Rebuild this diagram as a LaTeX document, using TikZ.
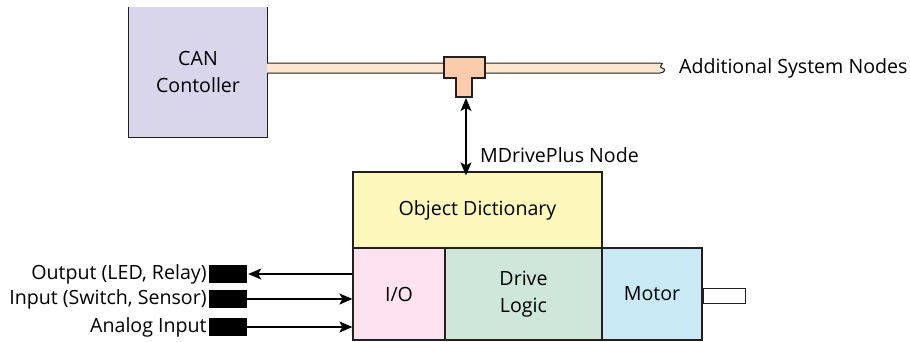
\documentclass[tikz,border=0pt]{standalone}
\usepackage{fontspec}
\setmainfont{Open Sans}
\usetikzlibrary{arrows.meta}
\definecolor{edge}{HTML}{231F20}
\definecolor{canfill}{HTML}{D9D5EA}
\definecolor{cablefill}{HTML}{FDE6CD}
\definecolor{teefill}{HTML}{FBCBAB}
\definecolor{dictfill}{HTML}{FBF8BA}
\definecolor{iofill}{HTML}{FBE2EE}
\definecolor{logicfill}{HTML}{CFE6DB}
\definecolor{motorfill}{HTML}{C9E9F4}
\newcommand{\labfont}{\fontsize{19.6}{27}\selectfont}
\tikzset{
  tip/.tip={Stealth[length=13pt,width=11pt,inset=3pt]},
  blockbox/.style={draw=edge, line width=1.2pt, inner sep=0pt, align=center, font=\labfont},
  plug/.style={fill=black, inner sep=0pt, minimum width=38pt, minimum height=18pt},
  iolabel/.style={anchor=east, inner sep=0pt, font=\labfont},
  sig/.style={line width=1.4pt, draw=black, arrows={-tip}},
  dsig/.style={line width=1.4pt, draw=black, arrows={tip-tip}},
  txt/.style={inner sep=0pt, font=\labfont}
}
\begin{document}
\begin{tikzpicture}[x=1pt,y=-1pt]
\useasboundingbox (0,0) rectangle (910,341);

% CAN controller (top edge runs off the sheet)
\node[fill=canfill, inner sep=0pt, minimum width=138pt, minimum height=130pt, align=center,
      font=\labfont] (can) at (198,72) {CAN\\Contoller};
\draw[edge, line width=1.2pt] (can.north west) -- (can.south west) -- (can.south east) -- (can.north east);

% bus cable with a broken end on the right
\coordinate (cableL) at (267,68);
\filldraw[fill=cablefill, draw=edge, line width=1pt]
  (cableL) ++(0,-5) -- (660,63) .. controls (666,63) and (657,67) .. (662,68)
  .. controls (667,69) and (664,73) .. (660,73) -- (267,73);

% tee connector
\filldraw[fill=teefill, draw=edge, line width=1.1pt]
  (444,57) -- (485,57) -- (485,78) -- (472,78) -- (472,97) -- (456,97) -- (456,78) -- (444,78) -- cycle;
\coordinate (teeout) at (466,98);

\node[txt, anchor=west] (more) at (679,68) {Additional System Nodes};

% drive blocks
\node[blockbox, fill=dictfill, minimum width=249pt, minimum height=76pt] (dict) at (477.5,210) {Object Dictionary};
\node[blockbox, fill=iofill, minimum width=92pt, minimum height=92pt] (io) at (399,294) {I/O};
\node[blockbox, fill=logicfill, minimum width=157pt, minimum height=92pt] (logic) at (523.5,294) {Drive\\Logic};
\node[blockbox, fill=motorfill, minimum width=100pt, minimum height=92pt] (motor) at (652,294) {Motor};
\node[draw=edge, line width=1pt, fill=white, inner sep=0pt, minimum width=42pt, minimum height=15pt,
      anchor=west] (shaft) at (motor.east |- 0,295.5) {};

\draw[dsig] (teeout) -- ([yshift=-4pt]teeout |- dict.north);
\node[txt, anchor=west] (mdrive) at (480,155) {MDrivePlus Node};

% field connections
\node[plug] (out1) at (228,274) {};
\node[plug] (in1) at (228,299) {};
\node[plug] (in2) at (228,327) {};
\node[iolabel] (out1l) at ([xshift=-2pt]out1.west) {Output (LED, Relay)};
\node[iolabel] (in1l) at ([xshift=-2pt]in1.west) {Input (Switch, Sensor)};
\node[iolabel] (in2l) at ([xshift=-2pt]in2.west) {Analog Input};

\draw[sig] (out1.east -| io.west) -- ([xshift=1pt]out1.east);
\draw[sig] (in1.east) -- (in1.east -| io.west);
\draw[sig] (in2.east) -- (in2.east -| io.west);
\end{tikzpicture}
\end{document}
